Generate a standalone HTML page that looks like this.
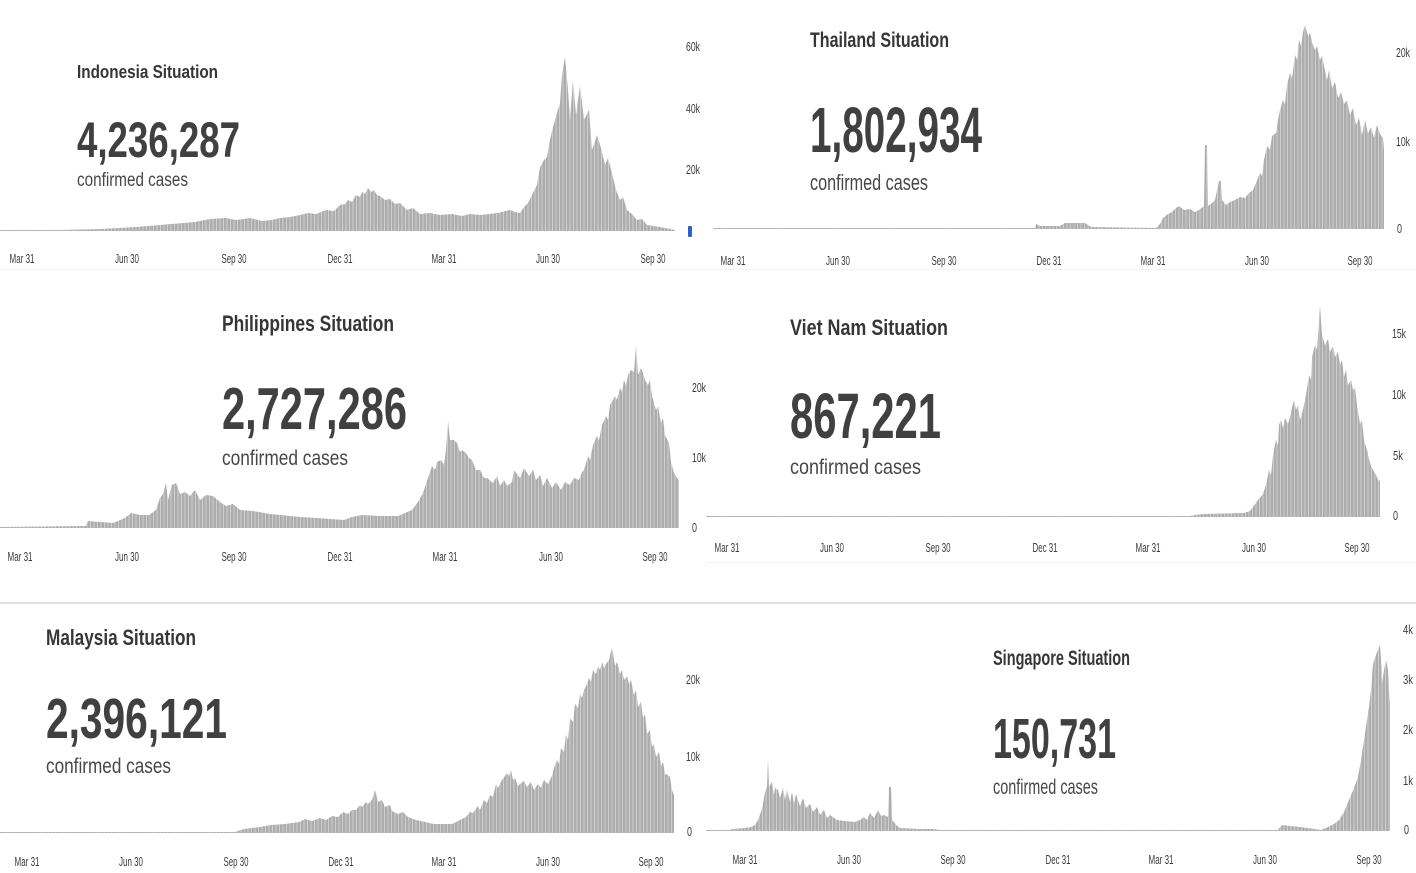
<!DOCTYPE html>
<html>
<head>
<meta charset="utf-8">
<style>
  html,body{margin:0;padding:0;background:#fff;}
  svg{display:block;}
  .t{font-family:"Liberation Sans",Arial,sans-serif;font-weight:bold;fill:#363636;}
  .n{font-family:"Liberation Sans",Arial,sans-serif;font-weight:bold;fill:#404040;}
  .c{font-family:"Liberation Sans",Arial,sans-serif;fill:#474747;}
  .ax{font-family:"Liberation Sans",Arial,sans-serif;font-size:12.5px;fill:#3c3c3c;}
  .ay{font-family:"Liberation Sans",Arial,sans-serif;font-size:12.5px;fill:#3c3c3c;}
  .bar{fill:url(#bp);}
</style>
</head>
<body>
<svg width="1416" height="873" viewBox="0 0 1416 873" xmlns="http://www.w3.org/2000/svg">
  <defs>
    <pattern id="bp" x="0" y="0" width="3.5" height="10" patternUnits="userSpaceOnUse">
      <rect x="0" y="0" width="3.5" height="10" fill="#cfcfcf"/>
      <rect x="0" y="0" width="2.5" height="10" fill="#adadad"/>
    </pattern>
  </defs>
  <rect x="0" y="0" width="1416" height="873" fill="#fff"/>

  <!-- separators -->
  <line x1="0" y1="269.5" x2="1416" y2="269.5" stroke="#f3f3f3" stroke-width="1"/>
  <line x1="706" y1="562.5" x2="1416" y2="562.5" stroke="#f3f3f3" stroke-width="1"/>
  <rect x="0" y="602" width="1416" height="2" fill="#dedede"/>

  <!-- ============ INDONESIA ============ -->
  <text class="t" x="77" y="78" font-size="18" textLength="141" lengthAdjust="spacingAndGlyphs">Indonesia Situation</text>
  <text class="n" x="77" y="157" font-size="50" textLength="163" lengthAdjust="spacingAndGlyphs">4,236,287</text>
  <text class="c" x="77" y="186" font-size="19" textLength="111" lengthAdjust="spacingAndGlyphs">confirmed cases</text>
  <polygon class="bar" points="0,231 0,230 60,230 100,229 136,227 160,225 195,222 210,219 226,218 236,220 250,218 262,221 271,220 280,218 290,217 300,215 308,213 316,214 326,210 334,211 340,205 345,204 348,200 352,202 356,195 360,197 362,192 365,194 368,188 371,192 374,190 377,195 380,196 385,200 390,199 395,204 400,203 407,210 413,208 420,214 430,213 440,215 452,214 462,216 470,214 480,215 489,214 498,213 505,211 510,210 515,212 520,213 524,207 528,203 533,193 537,185 540,167 544,160 547,157 550,140 553,127 557,113 560,103 562,75 565,57 568,90 570,120 573,80 576,115 580,86 584,120 589,110 592,150 597,135 601,148 605,165 608,158 612,173 616,190 620,200 623,197 627,210 632,214 637,220 642,219 647,225 660,227 675,230 675,231"/>
  <g class="ay">
    <text x="686" y="51" textLength="14" lengthAdjust="spacingAndGlyphs">60k</text>
    <text x="686" y="113" textLength="14" lengthAdjust="spacingAndGlyphs">40k</text>
    <text x="686" y="174" textLength="14" lengthAdjust="spacingAndGlyphs">20k</text>
  </g>
  <rect x="688" y="226" width="4" height="11" rx="1" fill="#2b63c6"/>
  <g class="ax" text-anchor="middle">
    <text x="22" y="263" textLength="25" lengthAdjust="spacingAndGlyphs">Mar 31</text>
    <text x="127" y="263" textLength="24" lengthAdjust="spacingAndGlyphs">Jun 30</text>
    <text x="234" y="263" textLength="25" lengthAdjust="spacingAndGlyphs">Sep 30</text>
    <text x="340" y="263" textLength="25" lengthAdjust="spacingAndGlyphs">Dec 31</text>
    <text x="444" y="263" textLength="25" lengthAdjust="spacingAndGlyphs">Mar 31</text>
    <text x="548" y="263" textLength="24" lengthAdjust="spacingAndGlyphs">Jun 30</text>
    <text x="653" y="263" textLength="25" lengthAdjust="spacingAndGlyphs">Sep 30</text>
  </g>

  <!-- ============ THAILAND ============ -->
  <text class="t" x="810" y="47" font-size="21" textLength="139" lengthAdjust="spacingAndGlyphs">Thailand Situation</text>
  <text class="n" x="810" y="152" font-size="64" textLength="172" lengthAdjust="spacingAndGlyphs">1,802,934</text>
  <text class="c" x="810" y="190" font-size="22" textLength="118" lengthAdjust="spacingAndGlyphs">confirmed cases</text>
  <polygon class="bar" points="713,229 713,228 1035,228 1036,224 1040,226 1060,226 1065,223 1085,223 1091,227 1156,228 1160,224 1163,218 1168,214 1172,212 1176,208 1179,206 1184,210 1190,209 1195,212 1199,210 1204,206 1205,145 1207,145 1208,206 1212,203 1215,200 1219,181 1221,181 1222,200 1226,205 1230,202 1235,200 1240,197 1245,198 1249,193 1253,190 1256,183 1260,173 1262,176 1264,160 1267,146 1270,150 1272,136 1276,133 1278,120 1280,110 1283,100 1285,104 1287,85 1290,73 1292,78 1295,55 1297,60 1299,40 1301,46 1303,32 1305,25 1308,36 1310,33 1312,42 1315,50 1317,46 1320,60 1322,56 1324,66 1327,80 1329,70 1332,88 1335,82 1338,98 1341,92 1344,104 1347,100 1350,115 1353,108 1356,125 1359,118 1362,135 1365,120 1368,134 1371,127 1374,138 1377,125 1380,134 1383,138 1384,150 1384,229"/>
  <g class="ay">
    <text x="1396" y="57" textLength="14" lengthAdjust="spacingAndGlyphs">20k</text>
    <text x="1396" y="146" textLength="14" lengthAdjust="spacingAndGlyphs">10k</text>
    <text x="1397" y="233" textLength="5" lengthAdjust="spacingAndGlyphs">0</text>
  </g>
  <g class="ax" text-anchor="middle">
    <text x="733" y="265" textLength="25" lengthAdjust="spacingAndGlyphs">Mar 31</text>
    <text x="838" y="265" textLength="24" lengthAdjust="spacingAndGlyphs">Jun 30</text>
    <text x="944" y="265" textLength="25" lengthAdjust="spacingAndGlyphs">Sep 30</text>
    <text x="1049" y="265" textLength="25" lengthAdjust="spacingAndGlyphs">Dec 31</text>
    <text x="1153" y="265" textLength="25" lengthAdjust="spacingAndGlyphs">Mar 31</text>
    <text x="1257" y="265" textLength="24" lengthAdjust="spacingAndGlyphs">Jun 30</text>
    <text x="1360" y="265" textLength="25" lengthAdjust="spacingAndGlyphs">Sep 30</text>
  </g>

  <!-- ============ PHILIPPINES ============ -->
  <text class="t" x="222" y="331" font-size="22" textLength="172" lengthAdjust="spacingAndGlyphs">Philippines Situation</text>
  <text class="n" x="222" y="429" font-size="59" textLength="185" lengthAdjust="spacingAndGlyphs">2,727,286</text>
  <text class="c" x="222" y="465" font-size="21" textLength="126" lengthAdjust="spacingAndGlyphs">confirmed cases</text>
  <polygon class="bar" points="0,528 0,527 86,526 88,521 100,522 113,523 125,518 131,513 140,515 149,515 156,510 160,498 163,494 166,483 168,500 172,485 176,483 180,494 185,492 190,496 195,490 200,500 206,495 213,496 220,502 226,506 233,504 240,510 253,511 270,514 281,515 300,517 317,518 344,520 352,517 362,515 380,516 398,516 405,513 412,510 418,502 423,493 428,478 432,466 435,470 437,462 441,460 444,465 446,450 448,421 450,440 454,440 457,443 460,452 462,450 466,453 469,458 472,460 476,470 480,470 484,478 487,478 493,483 497,476 500,486 504,480 507,486 512,482 514,470 516,473 520,478 524,468 529,476 533,470 536,480 540,475 543,486 547,478 552,488 556,482 561,490 565,482 570,485 574,478 579,480 582,472 584,470 588,456 590,460 593,445 597,436 599,440 602,425 606,416 608,420 610,405 613,400 615,396 617,400 620,388 622,392 624,380 626,386 628,375 631,370 634,372 636,345 638,375 641,368 643,373 645,380 648,385 650,380 652,396 656,410 658,406 661,423 663,418 665,435 669,443 671,462 674,473 677,478 679,480 679,528"/>
  <g class="ay">
    <text x="692" y="392" textLength="14" lengthAdjust="spacingAndGlyphs">20k</text>
    <text x="692" y="462" textLength="14" lengthAdjust="spacingAndGlyphs">10k</text>
    <text x="692" y="532" textLength="5" lengthAdjust="spacingAndGlyphs">0</text>
  </g>
  <g class="ax" text-anchor="middle">
    <text x="20" y="561" textLength="25" lengthAdjust="spacingAndGlyphs">Mar 31</text>
    <text x="127" y="561" textLength="24" lengthAdjust="spacingAndGlyphs">Jun 30</text>
    <text x="234" y="561" textLength="25" lengthAdjust="spacingAndGlyphs">Sep 30</text>
    <text x="340" y="561" textLength="25" lengthAdjust="spacingAndGlyphs">Dec 31</text>
    <text x="445" y="561" textLength="25" lengthAdjust="spacingAndGlyphs">Mar 31</text>
    <text x="551" y="561" textLength="24" lengthAdjust="spacingAndGlyphs">Jun 30</text>
    <text x="655" y="561" textLength="25" lengthAdjust="spacingAndGlyphs">Sep 30</text>
  </g>

  <!-- ============ VIET NAM ============ -->
  <text class="t" x="790" y="335" font-size="22" textLength="158" lengthAdjust="spacingAndGlyphs">Viet Nam Situation</text>
  <text class="n" x="790" y="438" font-size="64" textLength="151" lengthAdjust="spacingAndGlyphs">867,221</text>
  <text class="c" x="790" y="474" font-size="21" textLength="131" lengthAdjust="spacingAndGlyphs">confirmed cases</text>
  <polygon class="bar" points="706,517 706,516 1190,516 1195,515 1204,514 1244,513 1250,511 1253,507 1258,500 1263,494 1266,485 1269,470 1271,475 1273,455 1276,440 1278,445 1279,425 1281,420 1283,428 1285,418 1288,424 1290,417 1292,408 1294,400 1296,410 1298,405 1300,420 1303,410 1306,395 1309,375 1311,380 1312,357 1315,345 1317,350 1318,335 1320,306 1322,335 1325,345 1328,339 1330,352 1331,350 1333,346 1335,357 1338,352 1340,365 1342,360 1344,377 1346,370 1348,385 1351,380 1353,390 1355,388 1357,405 1360,424 1362,420 1364,440 1367,450 1370,463 1373,470 1376,475 1378,480 1380,481 1380,517"/>
  <g class="ay">
    <text x="1392" y="338" textLength="14" lengthAdjust="spacingAndGlyphs">15k</text>
    <text x="1392" y="399" textLength="14" lengthAdjust="spacingAndGlyphs">10k</text>
    <text x="1393" y="460" textLength="10" lengthAdjust="spacingAndGlyphs">5k</text>
    <text x="1393" y="520" textLength="5" lengthAdjust="spacingAndGlyphs">0</text>
  </g>
  <g class="ax" text-anchor="middle">
    <text x="727" y="552" textLength="25" lengthAdjust="spacingAndGlyphs">Mar 31</text>
    <text x="832" y="552" textLength="24" lengthAdjust="spacingAndGlyphs">Jun 30</text>
    <text x="938" y="552" textLength="25" lengthAdjust="spacingAndGlyphs">Sep 30</text>
    <text x="1045" y="552" textLength="25" lengthAdjust="spacingAndGlyphs">Dec 31</text>
    <text x="1148" y="552" textLength="25" lengthAdjust="spacingAndGlyphs">Mar 31</text>
    <text x="1254" y="552" textLength="24" lengthAdjust="spacingAndGlyphs">Jun 30</text>
    <text x="1357" y="552" textLength="25" lengthAdjust="spacingAndGlyphs">Sep 30</text>
  </g>

  <!-- ============ MALAYSIA ============ -->
  <text class="t" x="46" y="645" font-size="22" textLength="150" lengthAdjust="spacingAndGlyphs">Malaysia Situation</text>
  <text class="n" x="46" y="738" font-size="57" textLength="181" lengthAdjust="spacingAndGlyphs">2,396,121</text>
  <text class="c" x="46" y="773" font-size="21" textLength="125" lengthAdjust="spacingAndGlyphs">confirmed cases</text>
  <polygon class="bar" points="0,833 0,832 235,832 244,829 260,827 271,825 285,824 299,822 305,819 312,821 320,818 326,820 332,816 338,817 343,812 348,814 352,810 356,810 360,805 362,807 366,802 368,804 372,800 375,790 378,802 382,800 385,807 390,805 392,811 398,814 403,812 408,817 416,820 425,822 434,824 452,824 460,820 466,817 470,812 473,813 478,806 480,810 484,800 487,803 490,795 493,797 496,784 498,788 502,780 505,776 507,773 509,776 511,770 513,780 515,778 518,786 520,784 524,781 527,787 531,782 534,790 538,784 541,788 544,780 548,784 552,776 554,768 557,760 559,764 561,748 564,752 566,734 568,740 570,718 573,722 575,704 578,708 580,694 582,698 584,690 587,684 589,678 591,682 593,670 596,674 598,666 600,670 602,662 604,668 606,664 609,660 612,647 615,666 617,662 620,674 622,670 624,680 627,676 629,684 631,680 634,695 636,690 638,707 641,702 643,718 645,714 647,734 650,730 652,747 654,744 656,757 659,752 661,766 663,762 665,774 668,775 670,777 672,790 674,795 674,833"/>
  <g class="ay">
    <text x="686" y="684" textLength="14" lengthAdjust="spacingAndGlyphs">20k</text>
    <text x="686" y="761" textLength="14" lengthAdjust="spacingAndGlyphs">10k</text>
    <text x="687" y="836" textLength="5" lengthAdjust="spacingAndGlyphs">0</text>
  </g>
  <g class="ax" text-anchor="middle">
    <text x="27" y="866" textLength="25" lengthAdjust="spacingAndGlyphs">Mar 31</text>
    <text x="131" y="866" textLength="24" lengthAdjust="spacingAndGlyphs">Jun 30</text>
    <text x="236" y="866" textLength="25" lengthAdjust="spacingAndGlyphs">Sep 30</text>
    <text x="341" y="866" textLength="25" lengthAdjust="spacingAndGlyphs">Dec 31</text>
    <text x="444" y="866" textLength="25" lengthAdjust="spacingAndGlyphs">Mar 31</text>
    <text x="548" y="866" textLength="24" lengthAdjust="spacingAndGlyphs">Jun 30</text>
    <text x="651" y="866" textLength="25" lengthAdjust="spacingAndGlyphs">Sep 30</text>
  </g>

  <!-- ============ SINGAPORE ============ -->
  <text class="t" x="993" y="665" font-size="21" textLength="137" lengthAdjust="spacingAndGlyphs">Singapore Situation</text>
  <text class="n" x="993" y="758" font-size="57" textLength="123" lengthAdjust="spacingAndGlyphs">150,731</text>
  <text class="c" x="993" y="794" font-size="21" textLength="105" lengthAdjust="spacingAndGlyphs">confirmed cases</text>
  <polygon class="bar" points="706,831 706,830 729,830 733,829 745,828 751,827 755,825 758,820 761,812 763,804 765,792 767,787 768,760 769,787 772,782 774,795 775,788 778,790 780,798 783,788 785,800 787,790 790,802 792,792 794,804 796,794 800,806 803,798 806,808 810,804 813,812 817,807 820,815 824,810 827,818 830,815 837,820 845,821 855,822 860,820 864,817 867,820 870,813 874,818 878,810 881,816 884,815 888,817 889,787 891,787 892,820 894,822 897,826 900,828 920,829 932,829 941,830 1278,830 1281,826 1283,825 1290,826 1300,827 1315,829 1321,830 1328,827 1334,824 1339,820 1344,812 1349,800 1354,788 1358,777 1361,760 1364,740 1367,720 1369,707 1371,690 1373,664 1376,655 1378,650 1380,645 1381,660 1382,684 1384,670 1386,660 1388,670 1389,690 1390,704 1390,831"/>
  <g class="ay">
    <text x="1403" y="634" textLength="10" lengthAdjust="spacingAndGlyphs">4k</text>
    <text x="1403" y="684" textLength="10" lengthAdjust="spacingAndGlyphs">3k</text>
    <text x="1403" y="734" textLength="10" lengthAdjust="spacingAndGlyphs">2k</text>
    <text x="1403" y="785" textLength="10" lengthAdjust="spacingAndGlyphs">1k</text>
    <text x="1404" y="834" textLength="5" lengthAdjust="spacingAndGlyphs">0</text>
  </g>
  <g class="ax" text-anchor="middle">
    <text x="745" y="864" textLength="25" lengthAdjust="spacingAndGlyphs">Mar 31</text>
    <text x="849" y="864" textLength="24" lengthAdjust="spacingAndGlyphs">Jun 30</text>
    <text x="953" y="864" textLength="25" lengthAdjust="spacingAndGlyphs">Sep 30</text>
    <text x="1058" y="864" textLength="25" lengthAdjust="spacingAndGlyphs">Dec 31</text>
    <text x="1161" y="864" textLength="25" lengthAdjust="spacingAndGlyphs">Mar 31</text>
    <text x="1265" y="864" textLength="24" lengthAdjust="spacingAndGlyphs">Jun 30</text>
    <text x="1369" y="864" textLength="25" lengthAdjust="spacingAndGlyphs">Sep 30</text>
  </g>
</svg>
</body>
</html>
